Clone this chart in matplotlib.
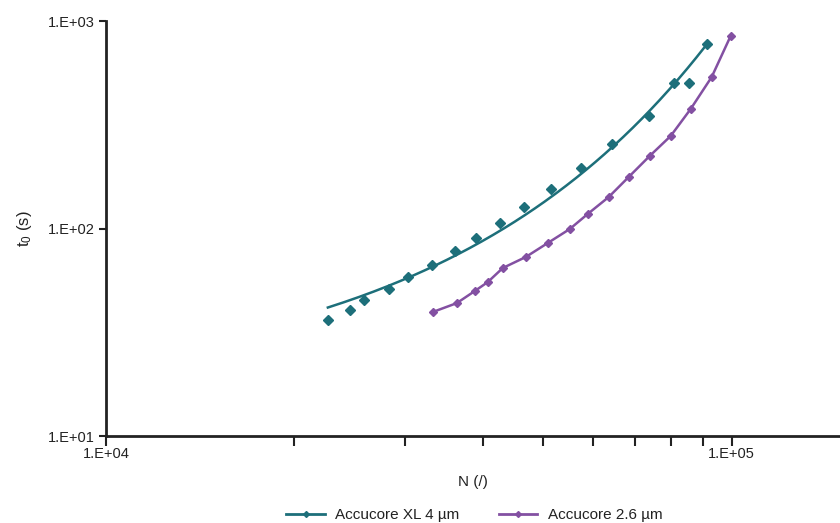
import numpy as np
import matplotlib
matplotlib.use("Agg")
import matplotlib.pyplot as plt
from matplotlib.ticker import FixedLocator, FixedFormatter, NullFormatter

plt.rcParams['font.family'] = ['Liberation Sans', 'DejaVu Sans']

# Accucore XL 4 um (markers + exponential trendline)
xl_N = [22625, 24540, 25840, 28330, 30370, 33180, 36100, 39010, 42600, 46520,
        51390, 57390, 64340, 73690, 80800, 85380, 91230]
xl_t = [36.2, 40.5, 45.2, 51.1, 58.4, 66.7, 77.9, 90.0, 106.3, 126.9,
        155.0, 195.6, 255.4, 348.5, 502.8, 502.8, 774.9]

# Accucore 2.6 um (markers + line)
ac_N = [33300, 36370, 38870, 40760, 43070, 46880, 50820, 55110, 58880, 63610,
        68460, 73960, 79900, 86000, 92920, 99630]
ac_t = [39.6, 43.7, 50.0, 55.2, 64.5, 72.9, 85.1, 99.4, 117.5, 141.8,
        177.1, 223.6, 279.1, 376.6, 537.2, 846.8]

teal = '#1d6f7a'
purple = '#8350a2'

fig = plt.figure(figsize=(8.4, 5.23), dpi=100)
ax = fig.add_axes([106/840, 1-436/523, 1-106/840, (436-21)/523])

# exponential trendline for the XL series (least squares on ln t)
b, a = np.polyfit(np.array(xl_N, float), np.log(xl_t), 1)
fitN = np.linspace(min(xl_N), max(xl_N), 200)
ax.plot(fitN, np.exp(a + b*fitN), color=teal, lw=1.8)
ax.plot(xl_N, xl_t, ls='none', marker='D', ms=5, color=teal, mec=teal)

ax.plot(ac_N, ac_t, color=purple, lw=1.8, marker='D', ms=4.3, mec=purple)

ax.set_xscale('log')
ax.set_yscale('log')
ax.set_xlim(1e4, 1.49e5)
ax.set_ylim(10, 1000)

ax.xaxis.set_major_locator(FixedLocator([1e4, 1e5]))
ax.xaxis.set_major_formatter(FixedFormatter(['1.E+04', '1.E+05']))
ax.xaxis.set_minor_locator(FixedLocator([k*1e4 for k in range(2, 10)]))
ax.xaxis.set_minor_formatter(NullFormatter())
ax.yaxis.set_major_locator(FixedLocator([10, 100, 1000]))
ax.yaxis.set_major_formatter(FixedFormatter(['1.E+01', '1.E+02', '1.E+03']))
ax.yaxis.set_minor_locator(FixedLocator([]))

ax.tick_params(axis='x', which='both', direction='out', length=7, width=1.5,
               labelsize=10.5, pad=1, color='#222222', labelcolor='#222222')
ax.tick_params(axis='y', which='both', direction='out', length=5, width=1.5,
               labelsize=10.5, pad=3, color='#222222', labelcolor='#222222')

for s in ['top', 'right']:
    ax.spines[s].set_visible(False)
for s in ['left', 'bottom']:
    ax.spines[s].set_linewidth(2)
    ax.spines[s].set_color('#222222')

ax.set_xlabel('N (/)', fontsize=11, labelpad=10, color='#222222')
ax.set_ylabel(r'$\mathregular{t_0}$ (s)', fontsize=12, labelpad=10, color='#222222')

h1, = ax.plot([], [], color=teal, lw=2, marker='D', ms=3, mec=teal)
h2, = ax.plot([], [], color=purple, lw=2, marker='D', ms=3, mec=purple)
fig.legend([h1, h2], ['Accucore XL 4 µm', 'Accucore 2.6 µm'], loc='lower center',
           bbox_to_anchor=(0.565, -0.025), ncol=2, frameon=False, fontsize=11,
           handlelength=2.5, handletextpad=0.7, columnspacing=2.6,
           labelcolor='#222222')

fig.savefig('out.png', dpi=100)
